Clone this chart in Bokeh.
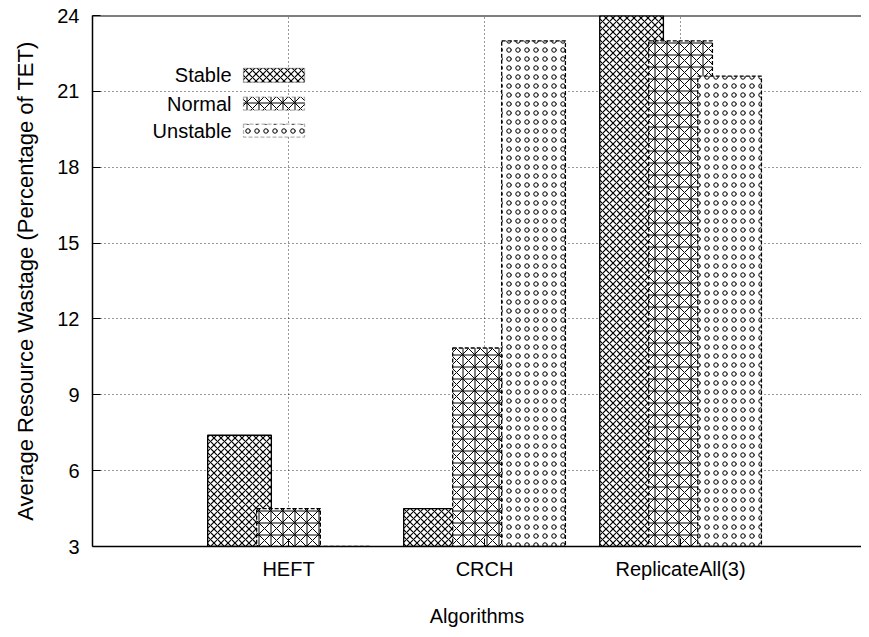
from bokeh.plotting import figure
from bokeh.models import FixedTicker, Label, BoxAnnotation, Range1d, Span
from bokeh.embed import file_html
from bokeh.resources import INLINE

# ---- data ----
algorithms = ["HEFT", "CRCH", "ReplicateAll(3)"]
series_names = ["Stable", "Normal", "Unstable"]
stable = [7.4, 4.5, 26.0]
normal = [4.5, 10.85, 23.0]
unstable = [0.0, 23.0, 21.6]
y_ticks = [3, 6, 9, 12, 15, 18, 21, 24]

FONT = "Liberation Sans"

x_pos = list(range(len(algorithms)))
p = figure(width=861, height=629, output_backend="svg", toolbar_location=None,
           x_range=Range1d(-1, 2.923), y_range=Range1d(3, 24),
           min_border_left=92, min_border_right=0, min_border_top=15,
           min_border_bottom=81)
p.outline_line_color = None
p.background_fill_color = "white"
p.border_fill_color = "white"

# grid
p.xgrid.ticker = FixedTicker(ticks=x_pos)
p.ygrid.ticker = FixedTicker(ticks=y_ticks)
for g in (p.xgrid, p.ygrid):
    g.grid_line_color = "black"
    g.grid_line_dash = "1 3"
    g.grid_line_alpha = 0.8
    g.grid_line_width = 1

# axes
xa = p.xaxis[0]
xa.ticker = FixedTicker(ticks=x_pos)
xa.major_label_overrides = {i: n for i, n in enumerate(algorithms)}
ya = p.yaxis[0]
ya.ticker = FixedTicker(ticks=y_ticks)
for ax in (xa, ya):
    ax.axis_line_color = "black"
    ax.axis_line_width = 1.5
    ax.major_tick_in = 8
    ax.major_tick_out = 0
    ax.major_tick_line_color = "black"
    ax.minor_tick_line_color = None
    ax.major_label_text_font = FONT
    ax.major_label_text_font_size = "20px"
    ax.major_label_text_color = "black"
    ax.axis_label_text_font = FONT
    ax.axis_label_text_font_style = "normal"
    ax.axis_label_text_color = "black"
xa.axis_label = "Algorithms"
xa.axis_label_text_font_size = "20px"
xa.major_label_standoff = 11
xa.axis_label_standoff = 22
ya.axis_label = "Average Resource Wastage (Percentage of TET)"
ya.axis_label_text_font_size = "22px"
ya.major_label_standoff = 13
ya.axis_label_standoff = 16

# top border
p.add_layout(Span(location=24, dimension="width", line_color="black", line_width=2))

# bars
offsets = [-0.25, 0.0, 0.25]
width = 0.325
styles = [
    dict(line_dash="solid", hatch_pattern="diagonal_cross", hatch_scale=7, hatch_weight=1.2),
    dict(line_dash="4 2", hatch_pattern="criss_cross", hatch_scale=12, hatch_weight=1),
    dict(line_dash="4 2", hatch_pattern="ring", hatch_scale=9, hatch_weight=1),
]
for vals, off, st in zip([stable, normal, unstable], offsets, styles):
    p.vbar(x=[xi + off for xi in x_pos], top=vals, bottom=0, width=width,
           fill_color="white", line_color="black", line_width=1.3,
           line_dash=st["line_dash"], hatch_pattern=st["hatch_pattern"],
           hatch_scale=st["hatch_scale"], hatch_color="black",
           hatch_weight=st["hatch_weight"])

# legend (label left, swatch right, gnuplot style)
def dx(px):
    return -1 + (px - 92) / 196.0

def dy(py):
    return 3 + (548 - py) / (533 / 21.0)

leg_rows = [(68, 82), (97, 110), (124, 137)]
for name, (t, b), st in zip(series_names, leg_rows, styles):
    p.add_layout(BoxAnnotation(left=dx(243), right=dx(304), top=dy(t), bottom=dy(b),
                               fill_color="white", fill_alpha=1, line_color="black",
                               line_width=1.3, line_dash=st["line_dash"],
                               hatch_pattern=st["hatch_pattern"],
                               hatch_scale=st["hatch_scale"], hatch_color="black",
                               hatch_weight=st["hatch_weight"], level="overlay"))
    p.add_layout(Label(x=dx(231), y=dy((t + b) / 2), text=name, text_align="right",
                       text_baseline="middle", text_font=FONT, text_font_size="20px",
                       text_color="black"))

open("out.html", "w").write(file_html(p, INLINE))
